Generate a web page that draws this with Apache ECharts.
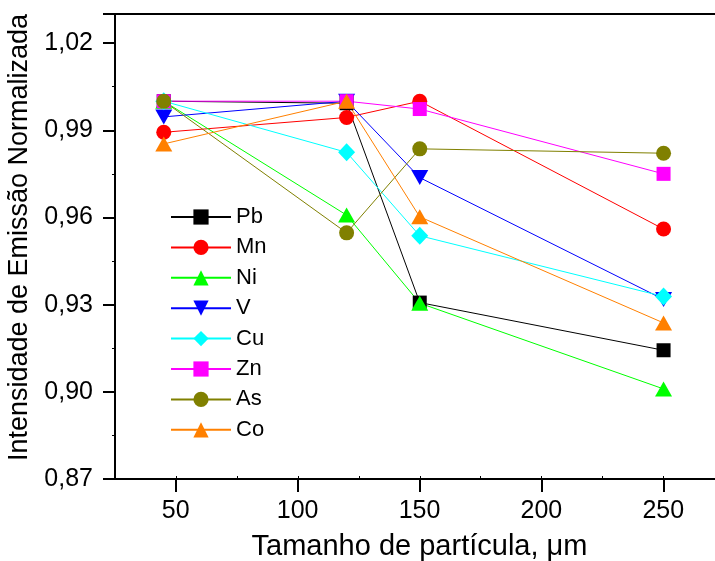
<!DOCTYPE html>
<html>
<head>
<meta charset="utf-8">
<script src="https://cdn.jsdelivr.net/npm/echarts@6/dist/echarts.min.js"></script>
<style>
  html, body { margin: 0; padding: 0; background: #fff; }
  #chart { width: 715px; height: 561px; }
</style>
</head>
<body>
<div id="chart"></div>
<script>
// tamanho de particula (um)
const sizes = [45, 120, 150, 250];
const names = ['Pb', 'Mn', 'Ni', 'V', 'Cu', 'Zn', 'As', 'Co'];
const pb = [1.000, 0.9993, 0.9307, 0.9143];
const mn = [0.9893, 0.9944, 1.000, 0.9560];
const ni = [1.000, 0.9608, 0.9305, 0.9010];
const v  = [0.9946, 1.000, 0.9737, 0.9318];
const cu = [1.000, 0.9824, 0.9537, 0.9328];
const zn = [1.000, 1.000, 0.9973, 0.9750];
const as = [1.000, 0.9547, 0.9836, 0.9821];
const co = [0.9853, 1.000, 0.9602, 0.9237];

const colors = ['#000000', '#ff0000', '#00ff00', '#0000ff', '#00ffff', '#ff00ff', '#808000', '#ff8000'];
const symbols = ['rect', 'circle', 'triangle', 'triangle', 'diamond', 'rect', 'circle', 'triangle'];
const rotates = [0, 0, 0, 180, 0, 0, 0, 0];
const symSizes = [14, 15, [17, 15], [17, 15], [17, 18], 14, 15, [17, 15]];
const allData = [pb, mn, ni, v, cu, zn, as, co];

const font = 'Liberation Sans, Arial, sans-serif';

const series = names.map((n, i) => ({
  name: n,
  type: 'line',
  xAxisIndex: 0,
  yAxisIndex: 0,
  data: sizes.map((x, j) => [x, allData[i][j]]),
  symbol: symbols[i],
  symbolRotate: rotates[i],
  symbolSize: symSizes[i],
  showAllSymbol: true,
  lineStyle: { color: colors[i], width: 1 },
  itemStyle: { color: colors[i] },
  emphasis: { disabled: true },
  animation: false
}));

const chart = echarts.init(document.getElementById('chart'));
chart.setOption({
  backgroundColor: '#fff',
  color: colors,
  grid: [
    // main plot, runs to the right edge (no right border in the original)
    { left: 115, top: 14, width: 600, height: 465, show: false,
      containLabel: false, outerBoundsMode: 'none' },
    // helper grid for the labelled 50..250 ticks
    { left: 175.7, top: 14, width: 487.6, height: 465, show: false,
      containLabel: false, outerBoundsMode: 'none' }
  ],
  legend: {
    orient: 'vertical',
    left: 170, top: 206,
    padding: 0,
    itemWidth: 60, itemHeight: 19,
    itemGap: 8.4,
    textStyle: { fontFamily: font, fontSize: 22, color: '#000' },
    data: names
  },
  xAxis: [
    {
      type: 'value', gridIndex: 0,
      min: 25, max: 271.1, interval: 25,
      axisLine: { lineStyle: { color: '#000', width: 2 } },
      axisTick: { inside: true, length: 3, lineStyle: { color: '#000', width: 1 } },
      axisLabel: { show: false },
      splitLine: { show: false }
    },
    {
      type: 'value', gridIndex: 1,
      min: 50, max: 250, interval: 50,
      name: 'Tamanho de partícula, μm',
      nameLocation: 'middle',
      nameGap: 53,
      nameTextStyle: { fontFamily: font, fontSize: 29, color: '#000' },
      axisLine: { show: false },
      axisTick: { length: 13, lineStyle: { color: '#000', width: 2 } },
      axisLabel: { fontFamily: font, fontSize: 25, color: '#000', margin: 20 },
      splitLine: { show: false }
    },
    {
      // top frame line
      type: 'value', gridIndex: 0, position: 'top',
      min: 25, max: 271.1,
      axisLine: { lineStyle: { color: '#000', width: 2 } },
      axisTick: { show: false },
      axisLabel: { show: false },
      splitLine: { show: false }
    }
  ],
  yAxis: [
    {
      type: 'value', gridIndex: 0,
      min: 0.87, max: 1.03, interval: 0.03,
      name: 'Intensidade de Emissão Normalizada',
      nameLocation: 'middle',
      nameGap: 71,
      nameTextStyle: { fontFamily: font, fontSize: 27, color: '#000', padding: [0, 0, 0, 18] },
      axisLine: { lineStyle: { color: '#000', width: 2 } },
      axisTick: { length: 12, lineStyle: { color: '#000', width: 2 } },
      minorTick: { show: true, splitNumber: 2, length: 3, lineStyle: { color: '#000', width: 1 } },
      axisLabel: {
        fontFamily: font, fontSize: 25, color: '#000', margin: 22,
        showMaxLabel: false,
        formatter: function (val) { return val.toFixed(2).replace('.', ','); }
      },
      splitLine: { show: false }
    },
    { type: 'value', gridIndex: 1, min: 0.87, max: 1.03, show: false }
  ],
  series: series
});
</script>
</body>
</html>
